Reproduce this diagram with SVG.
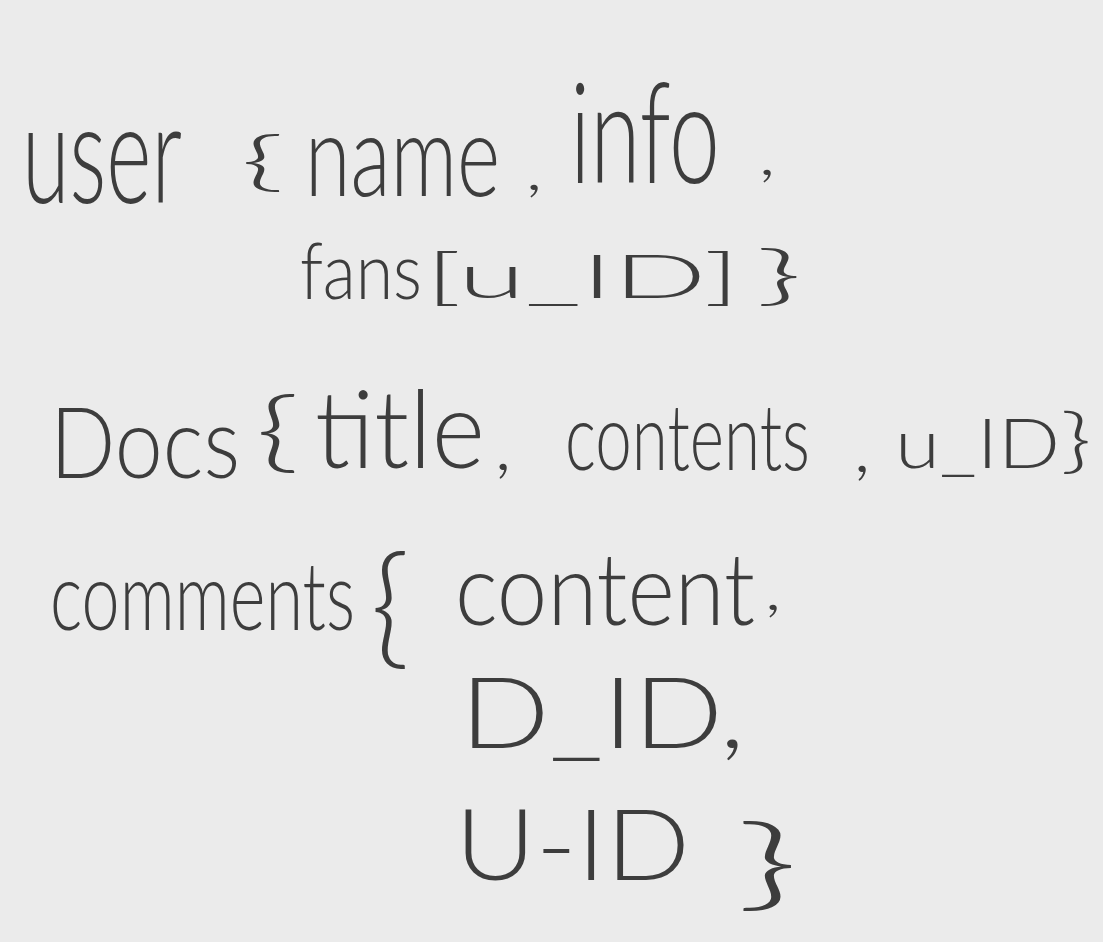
<svg xmlns="http://www.w3.org/2000/svg" width="1103" height="942" viewBox="0 0 1103 942">
  <style>
    .t { font-family: Lato, Inter, "Liberation Sans", sans-serif; font-weight: 300; fill: #3d3d3d; }
  </style>
  <rect width="1103" height="942" fill="#ebebeb"/>

  <!-- words are drawn in a narrow hand: each one is squeezed to 0.6 width and then fitted -->
  <g id="user">
    <text class="t" transform="translate(22,203) scale(0.6,1)" font-size="140" textLength="266.7" lengthAdjust="spacingAndGlyphs">user</text>
    <text class="t" transform="translate(240,183) scale(0.6,1)" font-size="66" textLength="75" lengthAdjust="spacingAndGlyphs">{</text>
    <text class="t" transform="translate(305,196) scale(0.6,1)" font-size="115" textLength="325" lengthAdjust="spacingAndGlyphs">name</text>
    <text class="t" transform="translate(525,190) scale(0.6,1)" font-size="60" textLength="30" lengthAdjust="spacingAndGlyphs">,</text>
    <text class="t" transform="translate(570,183) scale(0.6,1)" font-size="140" textLength="250" lengthAdjust="spacingAndGlyphs">info</text>
    <text class="t" transform="translate(758,175) scale(0.6,1)" font-size="60" textLength="30" lengthAdjust="spacingAndGlyphs">,</text>
    <text class="t" transform="translate(300,299) scale(0.6,1)" font-size="79" textLength="203.3" lengthAdjust="spacingAndGlyphs">fans</text>
    <text class="t" transform="translate(425,298) scale(0.6,1)" font-size="62" textLength="525" lengthAdjust="spacingAndGlyphs">[u_ID]</text>
    <text class="t" transform="translate(755,297) scale(0.6,1)" font-size="66" textLength="80" lengthAdjust="spacingAndGlyphs">}</text>
  </g>

  <g id="docs">
    <text class="t" transform="translate(50,478) scale(0.6,1)" font-size="98" textLength="316.7" lengthAdjust="spacingAndGlyphs">Docs</text>
    <text class="t" transform="translate(255,461) scale(0.6,1)" font-size="88" textLength="75" lengthAdjust="spacingAndGlyphs">{</text>
    <text class="t" transform="translate(315,468) scale(0.6,1)" font-size="108" textLength="283.3" lengthAdjust="spacingAndGlyphs">title</text>
    <text class="t" transform="translate(494,470) scale(0.6,1)" font-size="70" textLength="30" lengthAdjust="spacingAndGlyphs">,</text>
    <text class="t" transform="translate(565,470) scale(0.6,1)" font-size="92" textLength="408.3" lengthAdjust="spacingAndGlyphs">contents</text>
    <text class="t" transform="translate(853,472) scale(0.6,1)" font-size="70" textLength="30" lengthAdjust="spacingAndGlyphs">,</text>
    <text class="t" transform="translate(895,468) scale(0.6,1)" font-size="68" textLength="275" lengthAdjust="spacingAndGlyphs">u_ID</text>
    <text class="t" transform="translate(1060,465) scale(0.6,1)" font-size="70" textLength="53.3" lengthAdjust="spacingAndGlyphs">}</text>
  </g>

  <g id="comments">
    <text class="t" transform="translate(50,630) scale(0.6,1)" font-size="95" textLength="508.3" lengthAdjust="spacingAndGlyphs">comments</text>
    <text class="t" transform="translate(370,652) scale(0.6,1)" font-size="133" textLength="66.7" lengthAdjust="spacingAndGlyphs">{</text>
    <text class="t" transform="translate(455,625) scale(0.6,1)" font-size="100" textLength="500" lengthAdjust="spacingAndGlyphs">content</text>
    <text class="t" transform="translate(764,610) scale(0.6,1)" font-size="60" textLength="30" lengthAdjust="spacingAndGlyphs">,</text>
    <text class="t" transform="translate(460,748) scale(0.6,1)" font-size="98" textLength="475" lengthAdjust="spacingAndGlyphs">D_ID,</text>
    <text class="t" transform="translate(455,880) scale(0.6,1)" font-size="98" textLength="391.7" lengthAdjust="spacingAndGlyphs">U-ID</text>
    <text class="t" transform="translate(735,898) scale(0.6,1)" font-size="100" textLength="108.3" lengthAdjust="spacingAndGlyphs">}</text>
  </g>
</svg>
